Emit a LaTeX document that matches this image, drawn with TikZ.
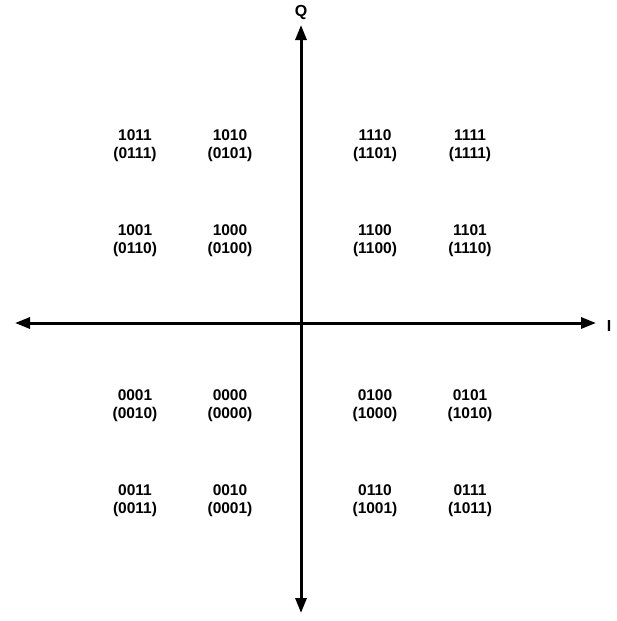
\documentclass[tikz,border=0pt]{standalone}
\usepackage{fontspec}
\setmainfont{Liberation Sans}
\usepackage{tikz}
\usetikzlibrary{arrows.meta}
\tikzstyle{pt}=[font=\fontsize{15.5}{18}\selectfont\bfseries, align=center, inner sep=0pt]
\tikzstyle{axis}=[line width=3pt, {Triangle[length=15pt,width=11pt]}-{Triangle[length=15pt,width=11pt]}]
\tikzstyle{lbl}=[font=\fontsize{16}{18}\selectfont\bfseries, inner sep=0pt]

\begin{document}
\begin{tikzpicture}[x=1pt,y=-1pt]
\useasboundingbox (0,0) rectangle (617,621);
% axes
\coordinate (west) at (15,323);
\coordinate (east) at (596,323);
\coordinate (north) at (301,25);
\coordinate (south) at (301,613);
\draw[axis] (west) -- (east);
\draw[axis] (south) -- (north);
\node[lbl] (I) at (609,326) {I};
\node[lbl] (Q) at (301,12) {Q};
% upper left
\node[pt] (p1011) at (135,146) {1011\\(0111)};
\node[pt] (p1010) at (230,146) {1010\\(0101)};
\node[pt] (p1001) at (135,241) {1001\\(0110)};
\node[pt] (p1000) at (230,241) {1000\\(0100)};
% upper right
\node[pt] (p1110) at (375,146) {1110\\(1101)};
\node[pt] (p1111) at (470,146) {1111\\(1111)};
\node[pt] (p1100) at (375,241) {1100\\(1100)};
\node[pt] (p1101) at (470,241) {1101\\(1110)};
% lower left
\node[pt] (p0001) at (135,406) {0001\\(0010)};
\node[pt] (p0000) at (230,406) {0000\\(0000)};
\node[pt] (p0011) at (135,501) {0011\\(0011)};
\node[pt] (p0010) at (230,501) {0010\\(0001)};
% lower right
\node[pt] (p0100) at (375,406) {0100\\(1000)};
\node[pt] (p0101) at (470,406) {0101\\(1010)};
\node[pt] (p0110) at (375,501) {0110\\(1001)};
\node[pt] (p0111) at (470,501) {0111\\(1011)};
\end{tikzpicture}
\end{document}
